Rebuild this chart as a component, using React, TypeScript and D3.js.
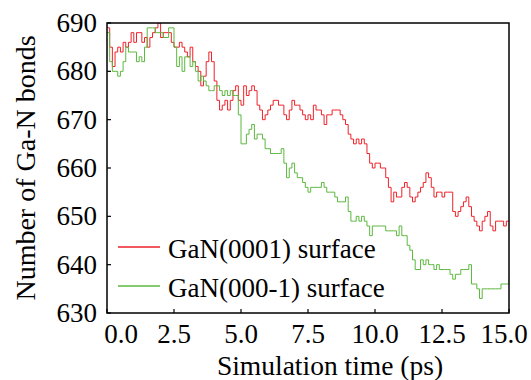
import React from 'react';
import * as d3 from 'd3';

// bond counts sampled every 0.1 ps, 0.0 .. 15.0
const gan0001 = [
  689, 685, 681, 684, 685, 684, 686, 685, 686, 688,
  686, 688, 688, 686, 687, 685, 687, 688, 689, 690,
  687, 688, 688, 688, 686, 685, 685, 686, 685, 684,
  683, 685, 682, 681, 680, 677, 679, 682, 684, 682,
  678, 674, 672, 673, 674, 672, 674, 676, 677, 674,
  673, 677, 675, 676, 677, 676, 673, 672, 670, 671,
  672, 673, 674, 674, 673, 673, 671, 670, 672, 674,
  673, 673, 672, 671, 670, 671, 670, 673, 672, 672,
  671, 669, 671, 671, 672, 672, 672, 671, 670, 669,
  667, 666, 665, 666, 665, 666, 665, 663, 661, 660,
  661, 661, 660, 660, 658, 656, 653, 655, 654, 654,
  656, 657, 656, 654, 653, 654, 655, 656, 657, 659,
  658, 656, 654, 655, 655, 654, 655, 655, 655, 651,
  650, 651, 652, 653, 654, 652, 650, 649, 648, 647,
  649, 650, 651, 648, 647, 649, 649, 649, 648, 649,
  649
];

const gan0001bar = [
  688, 682, 680, 680, 679, 680, 682, 685, 684, 684,
  684, 682, 683, 682, 685, 689, 689, 689, 688, 688,
  688, 687, 687, 689, 689, 685, 681, 683, 680, 683,
  683, 681, 682, 680, 678, 679, 678, 677, 676, 676,
  677, 677, 676, 675, 676, 675, 676, 675, 675, 671,
  665, 665, 667, 668, 669, 666, 667, 667, 666, 664,
  664, 663, 663, 663, 663, 664, 661, 658, 660, 661,
  659, 658, 658, 657, 656, 655, 656, 656, 656, 656,
  657, 656, 655, 655, 655, 654, 653, 653, 653, 654,
  651, 649, 649, 650, 649, 650, 649, 648, 646, 648,
  648, 648, 648, 648, 647, 647, 647, 647, 646, 648,
  646, 646, 644, 643, 641, 639, 639, 641, 640, 641,
  640, 640, 639, 640, 639, 639, 639, 639, 638, 637,
  638, 638, 639, 639, 639, 640, 636, 636, 635, 633,
  635, 635, 635, 635, 635, 635, 635, 636, 636, 636,
  637
];

const times = d3.range(gan0001.length).map(i => i * 0.1);

const xTicks = [0, 2.5, 5, 7.5, 10, 12.5, 15];
const yTicks = [630, 640, 650, 660, 670, 680, 690];

const series = [
  { name: 'GaN(0001) surface', values: gan0001, color: '#ee2229' },
  { name: 'GaN(000-1) surface', values: gan0001bar, color: '#5cb83e' }
];

const width = 531;
const height = 380;
const margin = { top: 23, right: 22, bottom: 67, left: 107 };
const font = 'Liberation Serif';

export default function App() {
  const x = d3.scaleLinear().domain([0, 15]).range([margin.left, width - margin.right]);
  const y = d3.scaleLinear().domain([630, 690]).range([height - margin.bottom, margin.top]);

  const line = d3.line<number>()
    .x((d, i) => x(times[i]))
    .y(d => y(d))
    .curve(d3.curveStepAfter);

  const x0 = x.range()[0];
  const x1 = x.range()[1];
  const yb = y.range()[0];
  const yt = y.range()[1];

  // end labels are nudged inwards like in the original
  const labelDx = (t: number) => (t === 0 ? 14 : t === 15 ? -5 : 0);

  return (
    <svg width={width} height={height} style={{ position: 'absolute', left: 0, top: 0 }}>
      <rect width={width} height={height} fill="white" />
      <defs>
        <clipPath id="plot">
          <rect x={x0} y={yt} width={x1 - x0} height={yb - yt} />
        </clipPath>
      </defs>

      <g clipPath="url(#plot)">
        {series.map(s => (
          <path key={s.name} d={line(s.values) || ''} fill="none" stroke={s.color} strokeWidth={1} />
        ))}
      </g>

      {/* Frame */}
      <rect x={x0} y={yt} width={x1 - x0} height={yb - yt} fill="none" stroke="black" strokeWidth={1.5} />

      {/* Bottom ticks */}
      {xTicks.map(t => (
        <g key={'x' + t}>
          <line x1={x(t)} x2={x(t)} y1={yb} y2={yb - 4} stroke="black" strokeWidth={1.2} />
          <text x={x(t) + labelDx(t)} y={yb + 30} textAnchor="middle" fontFamily={font} fontSize={27}>
            {t.toFixed(1)}
          </text>
        </g>
      ))}

      {/* Left ticks */}
      {yTicks.map(v => (
        <g key={'y' + v}>
          <line x1={x0} x2={x0 + 4} y1={y(v)} y2={y(v)} stroke="black" strokeWidth={1.2} />
          <text x={97} y={y(v) + 9} textAnchor="end" fontFamily={font} fontSize={27}>
            {v}
          </text>
        </g>
      ))}

      <text x={330} y={375} textAnchor="middle" fontFamily={font} fontSize={27.5}>
        Simulation time (ps)
      </text>
      <text transform={`translate(35, ${(yt + yb) / 2}) rotate(-90)`} textAnchor="middle" fontFamily={font} fontSize={28}>
        Number of Ga-N bonds
      </text>

      {/* Legend */}
      {series.map((s, i) => (
        <g key={'lg' + s.name} transform={`translate(0, ${i * 39})`}>
          <line x1={118} x2={160} y1={247} y2={247} stroke={s.color} strokeWidth={1.5} />
          <text x={168} y={258} fontFamily={font} fontSize={27}>{s.name}</text>
        </g>
      ))}
    </svg>
  );
}
